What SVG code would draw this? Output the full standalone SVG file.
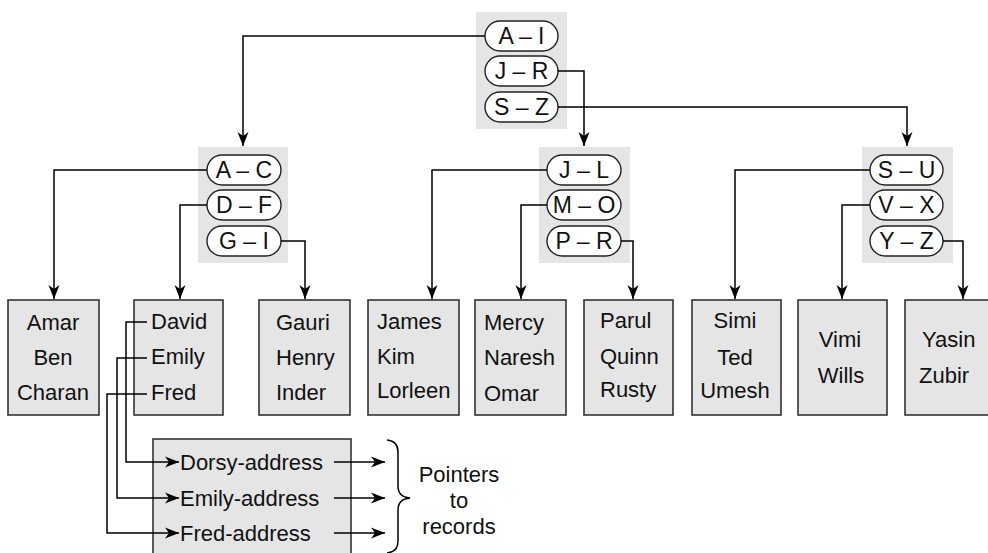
<svg xmlns="http://www.w3.org/2000/svg" width="988" height="553" viewBox="0 0 988 553">
<defs>
<marker id="ah" markerUnits="userSpaceOnUse" markerWidth="15" markerHeight="12" refX="14" refY="6" orient="auto">
<path d="M0,0.5 L14,6 L0,11.5 L4,6 z" fill="#000"/>
</marker>
<style>
.gbox{fill:#e5e5e5;stroke:none}
.pill{fill:#fff;stroke:#222;stroke-width:1.4}
.leaf{fill:#e5e5e5;stroke:#333;stroke-width:1.6}
.pt{font-family:"Liberation Sans",Arial,sans-serif;font-size:23px;fill:#111;text-anchor:middle}
.t{font-family:"Liberation Sans",Arial,sans-serif;font-size:22px;fill:#111}
.m{text-anchor:middle}
.c{fill:none;stroke:#000;stroke-width:1.5}
.ca{fill:none;stroke:#000;stroke-width:1.5;marker-end:url(#ah)}
</style>
</defs>
<rect width="988" height="553" fill="#fff"/>

<g id="root">
<rect class="gbox" x="476" y="12" width="91" height="117"/>
<rect class="pill" x="485" y="21" width="73" height="30" rx="15"/>
<text class="pt" x="521.5" y="44">A – I</text>
<rect class="pill" x="485" y="56" width="73" height="30" rx="15"/>
<text class="pt" x="521.5" y="79">J – R</text>
<rect class="pill" x="485" y="92" width="73" height="30" rx="15"/>
<text class="pt" x="521.5" y="115">S – Z</text>
</g>

<g id="index-left">
<rect class="gbox" x="198" y="147" width="90" height="116"/>
<rect class="pill" x="207" y="155" width="74" height="30" rx="15"/>
<text class="pt" x="244" y="178">A – C</text>
<rect class="pill" x="207" y="190" width="74" height="30" rx="15"/>
<text class="pt" x="244" y="213">D – F</text>
<rect class="pill" x="207" y="226" width="74" height="30" rx="15"/>
<text class="pt" x="244" y="249">G – I</text>
</g>

<g id="index-mid">
<rect class="gbox" x="539" y="147" width="91" height="116"/>
<rect class="pill" x="547" y="155" width="74" height="30" rx="15"/>
<text class="pt" x="584" y="178">J – L</text>
<rect class="pill" x="547" y="190" width="74" height="30" rx="15"/>
<text class="pt" x="584" y="213">M – O</text>
<rect class="pill" x="547" y="226" width="74" height="30" rx="15"/>
<text class="pt" x="584" y="249">P – R</text>
</g>

<g id="index-right">
<rect class="gbox" x="862" y="147" width="91" height="116"/>
<rect class="pill" x="870" y="155" width="73" height="30" rx="15"/>
<text class="pt" x="906.5" y="178">S – U</text>
<rect class="pill" x="870" y="190" width="73" height="30" rx="15"/>
<text class="pt" x="906.5" y="213">V – X</text>
<rect class="pill" x="870" y="226" width="73" height="30" rx="15"/>
<text class="pt" x="906.5" y="249">Y – Z</text>
</g>

<g id="leaf-abc">
<rect class="leaf" x="8" y="300" width="91" height="115"/>
<text class="t m" x="53" y="330">Amar</text>
<text class="t m" x="53" y="365">Ben</text>
<text class="t m" x="53" y="400">Charan</text>
</g>
<g id="leaf-def">
<rect class="leaf" x="134" y="300" width="89" height="115"/>
<text class="t" x="151" y="329">David</text>
<text class="t" x="151" y="364">Emily</text>
<text class="t" x="151" y="400">Fred</text>
</g>
<g id="leaf-ghi">
<rect class="leaf" x="259" y="300" width="91" height="115"/>
<text class="t" x="276" y="330">Gauri</text>
<text class="t" x="276" y="365">Henry</text>
<text class="t" x="276" y="400">Inder</text>
</g>
<g id="leaf-jkl">
<rect class="leaf" x="368" y="300" width="91" height="115"/>
<text class="t" x="377" y="329">James</text>
<text class="t" x="377" y="364">Kim</text>
<text class="t" x="377" y="398">Lorleen</text>
</g>
<g id="leaf-mno">
<rect class="leaf" x="475" y="300" width="91" height="115"/>
<text class="t" x="484" y="330">Mercy</text>
<text class="t" x="484" y="365">Naresh</text>
<text class="t" x="484" y="401">Omar</text>
</g>
<g id="leaf-pqr">
<rect class="leaf" x="584" y="300" width="89" height="115"/>
<text class="t" x="600" y="328">Parul</text>
<text class="t" x="600" y="364">Quinn</text>
<text class="t" x="600" y="397">Rusty</text>
</g>
<g id="leaf-stu">
<rect class="leaf" x="692" y="300" width="89" height="115"/>
<text class="t m" x="735" y="328">Simi</text>
<text class="t m" x="735" y="365">Ted</text>
<text class="t m" x="735" y="398">Umesh</text>
</g>
<g id="leaf-vwx">
<rect class="leaf" x="798" y="300" width="89" height="115"/>
<text class="t m" x="840" y="347">Vimi</text>
<text class="t m" x="841" y="383">Wills</text>
</g>
<g id="leaf-yz">
<rect class="leaf" x="905" y="300" width="95" height="115"/>
<text class="t" x="922" y="347">Yasin</text>
<text class="t" x="919" y="383">Zubir</text>
</g>

<g id="address-block">
<rect class="leaf" x="153" y="439" width="198" height="125"/>
<text class="t" x="180" y="470">Dorsy-address</text>
<text class="t" x="180" y="506">Emily-address</text>
<text class="t" x="180" y="541">Fred-address</text>
</g>

<g id="pointers-label">
<path class="c" d="M387,440 Q398,441 398,452 V486 Q398,497 410,498 Q398,499 398,510 V541 Q398,552 387,553" stroke-width="1.2"/>
<text class="t m" x="459" y="482">Pointers</text>
<text class="t m" x="459" y="508">to</text>
<text class="t m" x="459" y="534">records</text>
</g>

<g id="connectors">
<path class="ca" d="M485,36 H243 V146"/>
<path class="ca" d="M558,71 H584 V146"/>
<path class="ca" d="M558,107 H907 V146"/>
<path class="ca" d="M207,170 H54 V299"/>
<path class="ca" d="M207,205 H180 V299"/>
<path class="ca" d="M281,241 H305 V299"/>
<path class="ca" d="M547,170 H432 V299"/>
<path class="ca" d="M547,205 H521 V299"/>
<path class="ca" d="M621,241 H633 V299"/>
<path class="ca" d="M870,170 H735 V299"/>
<path class="ca" d="M870,205 H842 V299"/>
<path class="ca" d="M943,241 H963 V299"/>
<path class="ca" d="M147,322 H126 V462 H179"/>
<path class="ca" d="M147,358 H117 V498 H179"/>
<path class="ca" d="M147,394 H107 V533 H179"/>
<path class="ca" d="M334,462 H385"/>
<path class="ca" d="M334,498 H385"/>
<path class="ca" d="M334,533 H385"/>
</g>
</svg>
